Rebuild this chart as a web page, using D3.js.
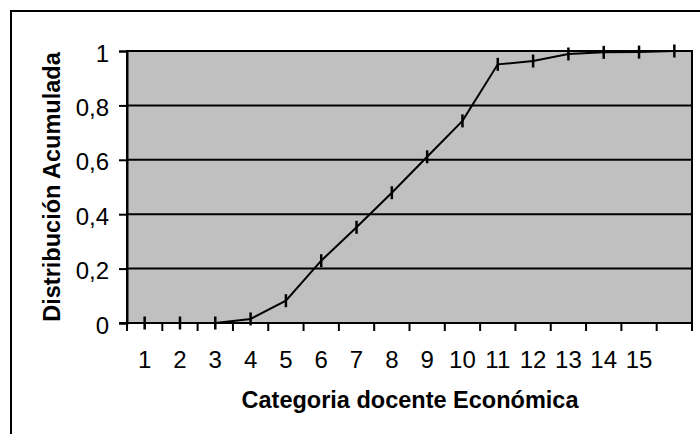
<!DOCTYPE html>
<html><head><meta charset="utf-8">
<script src="https://cdn.jsdelivr.net/npm/d3@7"></script>
<style>body{margin:0;background:#fff}svg{display:block}text{font-family:"Liberation Sans",Arial,sans-serif}</style>
</head><body>
<script>
const categories = [1,2,3,4,5,6,7,8,9,10,11,12,13,14,15,16];
const xTickLabels = ["1","2","3","4","5","6","7","8","9","10","11","12","13","14","15",""];
const cumValues = [0,0,0,0.015,0.082,0.229,0.352,0.479,0.611,0.743,0.951,0.963,0.989,0.995,0.996,1.0];
const yTicks = [0,0.2,0.4,0.6,0.8,1];
const yTickLabels = ["0","0,2","0,4","0,6","0,8","1"];
const xTitle = "Categoria docente Económica";
const yTitle = "Distribución Acumulada";

const W=700,H=434;
const L=127,R=692,T=51,B=323;
const svg=d3.select("body").append("svg").attr("width",W).attr("height",H);
svg.append("rect").attr("width",W).attr("height",H).attr("fill","#fff");
svg.append("rect").attr("x",11).attr("y",11).attr("width",W).attr("height",H)
  .attr("fill","none").attr("stroke","#000").attr("stroke-width",2);

const x=d3.scaleBand().domain(categories).range([L,R]).padding(0);
const y=d3.scaleLinear().domain([0,1]).range([B,T]);

svg.append("rect").attr("x",L).attr("y",T).attr("width",R-L).attr("height",B-T)
  .attr("fill","#c0c0c0").attr("stroke","#000").attr("stroke-width",2);

// gridlines
svg.append("g").selectAll("line").data(yTicks.filter(d=>d>0)).join("line")
  .attr("x1",L).attr("x2",R).attr("y1",d=>y(d)).attr("y2",d=>y(d))
  .attr("stroke","#000").attr("stroke-width",2);

// y axis
const yAxis=d3.axisLeft(y).tickValues(yTicks).tickSize(8).tickPadding(10)
  .tickFormat((d,i)=>yTickLabels[i]);
const gy=svg.append("g").attr("transform",`translate(${L},0)`).call(yAxis);
gy.select(".domain").attr("stroke","#000").attr("stroke-width",2);
gy.selectAll(".tick line").attr("stroke","#000").attr("stroke-width",2);
gy.selectAll(".tick text").attr("font-size",24).attr("fill","#000")
  .attr("font-family","'Liberation Sans',Arial,sans-serif").attr("dy","0.42em");

// x axis: ticks at band boundaries
const bounds=categories.map(c=>x(c)).concat([R]);
svg.append("g").selectAll("line").data(bounds).join("line")
  .attr("x1",d=>d).attr("x2",d=>d).attr("y1",B).attr("y2",B+8)
  .attr("stroke","#000").attr("stroke-width",2);
svg.append("line").attr("x1",L-8).attr("x2",R).attr("y1",B).attr("y2",B)
  .attr("stroke","#000").attr("stroke-width",2);
svg.append("g").selectAll("text").data(categories).join("text")
  .attr("x",d=>x(d)+x.bandwidth()/2).attr("y",368)
  .attr("text-anchor","middle").attr("font-size",24).attr("fill","#000")
  .text((d,i)=>xTickLabels[i]);

// line
const line=d3.line().x((d,i)=>x(categories[i])+x.bandwidth()/2).y(d=>y(d));
svg.append("path").datum(cumValues).attr("d",line).attr("fill","none")
  .attr("stroke","#000").attr("stroke-width",2);
svg.append("g").selectAll("line").data(cumValues).join("line")
  .attr("x1",(d,i)=>x(categories[i])+x.bandwidth()/2)
  .attr("x2",(d,i)=>x(categories[i])+x.bandwidth()/2)
  .attr("y1",d=>y(d)-6.5).attr("y2",d=>y(d)+6.5)
  .attr("stroke","#000").attr("stroke-width",2.5);

// titles
svg.append("text").attr("x",410).attr("y",408).attr("text-anchor","middle")
  .attr("font-size",23.5).attr("font-weight","bold").attr("fill","#000").text(xTitle);
svg.append("text").attr("transform","translate(60,187) rotate(-90)").attr("text-anchor","middle")
  .attr("font-size",23.5).attr("font-weight","bold").attr("fill","#000").text(yTitle);
</script>
</body></html>
